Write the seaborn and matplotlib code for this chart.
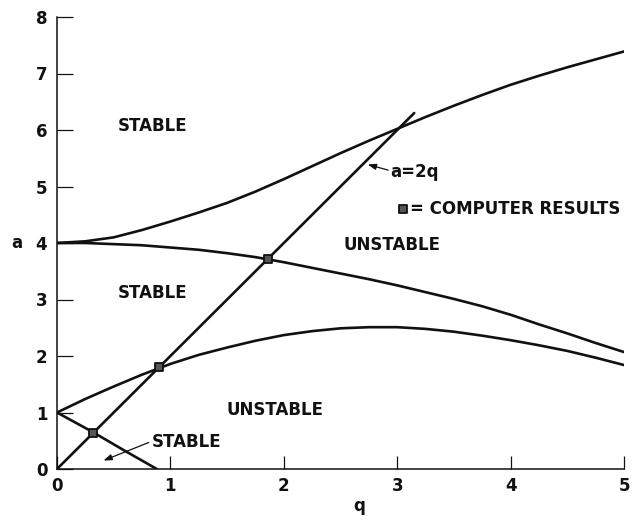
import matplotlib
matplotlib.use("Agg")
import matplotlib.pyplot as plt
import pandas as pd
import seaborn as sns

# Stability chart of the Mathieu equation: characteristic curves a(q)
q_grid = [0.0, 0.25, 0.5, 0.75, 1.0, 1.25, 1.5, 1.75, 2.0, 2.25, 2.5,
          2.75, 3.0, 3.25, 3.5, 3.75, 4.0, 4.25, 4.5, 4.75, 5.0]
a2_curve = [4.00, 4.03, 4.10, 4.23, 4.38, 4.54, 4.71, 4.91, 5.13, 5.36, 5.59,
            5.81, 6.02, 6.23, 6.43, 6.62, 6.80, 6.96, 7.11, 7.25, 7.39]
b2_curve = [4.00, 4.00, 3.98, 3.96, 3.92, 3.88, 3.82, 3.75, 3.66, 3.56, 3.46,
            3.36, 3.25, 3.13, 3.01, 2.88, 2.73, 2.56, 2.40, 2.23, 2.07]
a1_curve = [1.00, 1.24, 1.46, 1.67, 1.86, 2.02, 2.15, 2.27, 2.37, 2.44, 2.49,
            2.51, 2.51, 2.48, 2.43, 2.36, 2.28, 2.19, 2.09, 1.97, 1.84]

# b1 branch, from a = 1 down to the q axis
q_b1 = [0.0, 0.31, 0.60, 0.88]
a_b1 = [1.00, 0.66, 0.32, 0.00]

# operating line a = 2q
q_line = [0.0, 3.15]
a_line = [0.0, 6.30]

# computed crossing points on the operating line
q_computed = [0.32, 0.90, 1.86]
a_computed = [0.64, 1.80, 3.72]

x_ticks = [0, 1, 2, 3, 4, 5]
y_ticks = [0, 1, 2, 3, 4, 5, 6, 7, 8]

sns.set_style("ticks")
plt.rcParams["font.family"] = ["DejaVu Sans"]
plt.rcParams["font.weight"] = "bold"

INK = "#111111"
FS = 12

fig = plt.figure(figsize=(6.39, 5.21), dpi=100)
ax = fig.add_axes([57 / 639, 52 / 521, 567 / 639, 452 / 521])

curves = pd.DataFrame({"q": q_grid, "a2": a2_curve, "b2": b2_curve, "a1": a1_curve})
for name in ["a2", "b2", "a1"]:
    sns.lineplot(data=curves, x="q", y=name, ax=ax, color=INK, lw=1.9,
                 estimator=None, sort=False)
sns.lineplot(x=q_b1, y=a_b1, ax=ax, color=INK, lw=1.9, estimator=None, sort=False)
sns.lineplot(x=q_line, y=a_line, ax=ax, color=INK, lw=1.9, estimator=None, sort=False)

sns.scatterplot(x=q_computed, y=a_computed, ax=ax, marker="s", s=34,
                color="#555555", edgecolor=INK, linewidth=1.3, zorder=5)
# key symbol
sns.scatterplot(x=[3.05], y=[4.60], ax=ax, marker="s", s=30,
                color="#555555", edgecolor=INK, linewidth=1.3, zorder=5)

ax.set_xlim(0, 5)
ax.set_ylim(0, 8)
ax.set_xticks(x_ticks)
ax.set_yticks(y_ticks)
ax.set_xticklabels([str(t) for t in x_ticks])
ax.set_yticklabels([str(t) for t in y_ticks])
ax.tick_params(axis="x", direction="in", length=9.5, width=0.9, pad=6,
               labelsize=FS, colors=INK)
ax.tick_params(axis="y", direction="in", length=11.5, width=0.9, pad=7,
               labelsize=FS, colors=INK)
for lab in ax.get_xticklabels() + ax.get_yticklabels():
    lab.set_fontweight("bold")

sns.despine(ax=ax)
for side in ["left", "bottom"]:
    ax.spines[side].set_linewidth(1.1)
    ax.spines[side].set_color(INK)

ax.set_xlabel("q", fontsize=FS, fontweight="bold", color=INK)
ax.set_ylabel("a", fontsize=FS, fontweight="bold", color=INK, rotation=0,
              ha="center", va="center")
ax.xaxis.set_label_coords((359 - 57) / 567, -(497 - 469) / 452)
ax.yaxis.set_label_coords((17 - 57) / 567, 0.5)

txt = dict(fontsize=FS, fontweight="bold", color=INK)
ax.text(0.84, 6.07, "STABLE", ha="center", va="center", **txt)
ax.text(0.84, 3.11, "STABLE", ha="center", va="center", **txt)
ax.text(2.95, 3.96, "UNSTABLE", ha="center", va="center", **txt)
ax.text(1.92, 1.04, "UNSTABLE", ha="center", va="center", **txt)
ax.text(0.835, 0.48, "STABLE", ha="left", va="center", **txt)
ax.text(2.94, 5.26, "a=2q", ha="left", va="center", **txt)
ax.text(3.11, 4.60, "= COMPUTER RESULTS", ha="left", va="center", **txt)

arrow = dict(arrowstyle="-|>,head_length=0.5,head_width=0.18", lw=0.9, color=INK,
             shrinkA=0, shrinkB=0)
ax.annotate("", xy=(0.41, 0.15), xytext=(0.81, 0.47), arrowprops=arrow)
ax.annotate("", xy=(2.74, 5.39), xytext=(2.92, 5.29), arrowprops=arrow)

fig.savefig("out.png", dpi=100)
